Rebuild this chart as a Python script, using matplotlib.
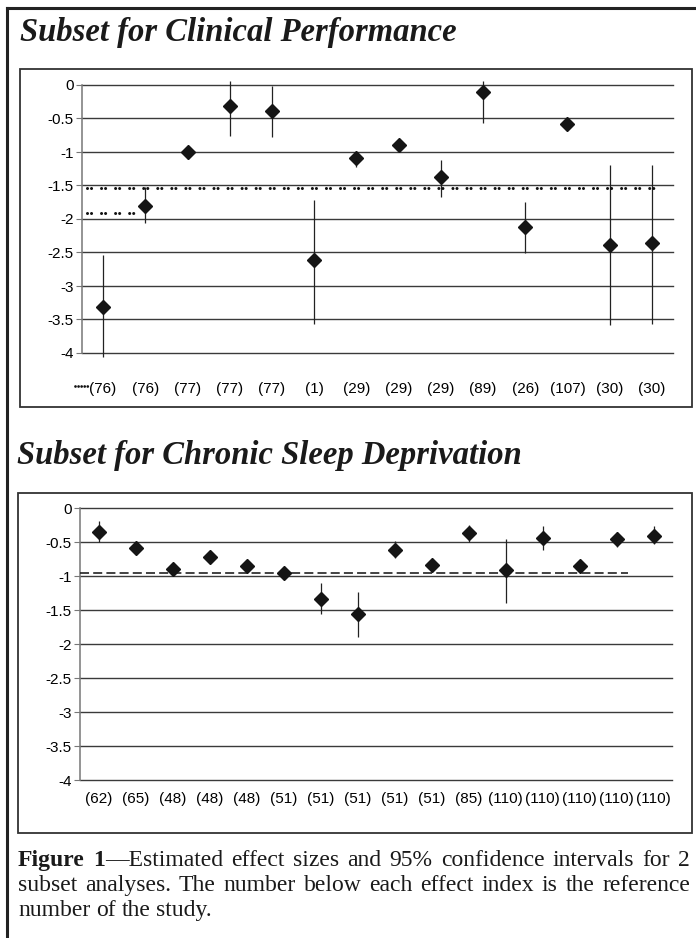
import numpy as np
import matplotlib.pyplot as plt
from matplotlib.lines import Line2D
from matplotlib.patches import Rectangle

plt.rcParams['lines.scale_dashes'] = False
plt.rcParams['axes.unicode_minus'] = False

# Subset for clinical performance (effect size, 95% CI), reference numbers below
clin_refs = ["(76)", "(76)", "(77)", "(77)", "(77)", "(1)", "(29)", "(29)", "(29)",
             "(89)", "(26)", "(107)", "(30)", "(30)"]
clin_effect = [-3.32, -1.81, -1.00, -0.32, -0.39, -2.61, -1.09, -0.90, -1.38,
               -0.10, -2.12, -0.58, -2.39, -2.36]
clin_lo = [-4.06, -2.06, -1.10, -0.76, -0.78, -3.56, -1.22, -0.95, -1.67,
           -0.56, -2.51, -0.60, -3.58, -3.56]
clin_hi = [-2.53, -1.52, -0.91, 0.06, -0.02, -1.71, -1.02, -0.85, -1.12,
           0.06, -1.74, -0.56, -1.19, -1.19]
clin_mean = -1.54
clin_mean_first = -1.915

# Subset for chronic sleep deprivation
sleep_refs = ["(62)", "(65)", "(48)", "(48)", "(48)", "(51)", "(51)", "(51)", "(51)",
              "(51)", "(85)", "(110)", "(110)", "(110)", "(110)", "(110)"]
sleep_effect = [-0.35, -0.59, -0.89, -0.72, -0.86, -0.96, -1.34, -1.56, -0.62,
                -0.84, -0.37, -0.91, -0.44, -0.85, -0.46, -0.41]
sleep_lo = [-0.50, -0.62, -0.93, -0.74, -0.90, -0.98, -1.56, -1.89, -0.74,
            -0.88, -0.50, -1.40, -0.62, -0.87, -0.58, -0.53]
sleep_hi = [-0.19, -0.56, -0.85, -0.70, -0.82, -0.94, -1.11, -1.23, -0.49,
            -0.80, -0.25, -0.45, -0.27, -0.83, -0.35, -0.27]
sleep_mean = -0.96

yticks = np.arange(-4, 0.01, 0.5)

W, H = 696, 938
fig = plt.figure(figsize=(W / 100, H / 100), dpi=100)


def fx(px):
    return px / W


def fy(py):
    return 1 - py / H


def panel(ax, refs, eff, lo, hi, label_pad):
    n = len(refs)
    x = np.arange(n) + 0.5
    ax.set_xlim(0, n)
    ax.set_ylim(-4, 0)
    ax.set_yticks(yticks)
    ax.set_yticklabels([f"{v:g}" if v != 0 else "0" for v in yticks],
                       family="Liberation Sans", size=11)
    ax.grid(axis="y", color="#3a3a3a", lw=1.0)
    for g in ax.get_ygridlines():
        g.set_clip_on(False)
    ax.set_axisbelow(True)
    for s in ["top", "right", "bottom"]:
        ax.spines[s].set_visible(False)
    ax.spines["left"].set_color("#777777")
    ax.spines["left"].set_linewidth(1.1)
    ax.tick_params(axis="y", length=4, color="#777777", pad=2)
    ax.set_xticks(x)
    ax.set_xticklabels(refs, family="Liberation Sans", size=11)
    ax.tick_params(axis="x", length=0, pad=label_pad)
    ax.patch.set_alpha(0)
    ax.vlines(x, lo, hi, color="#222222", lw=0.9, clip_on=False, zorder=3)
    ax.plot(x, eff, "D", ms=7.5, color="#151515", clip_on=False, zorder=4)
    return x


ax1 = fig.add_axes([fx(82), fy(353), fx(673) - fx(82), fy(85) - fy(353)])
panel(ax1, clin_refs, clin_effect, clin_lo, clin_hi, 21)
dots = (0, (0.01, 2.9, 0.01, 7.2))
ax1.plot([0.12, 13.62], [clin_mean, clin_mean], color="#111111", lw=2.2,
         ls=dots, dash_capstyle="round", zorder=3)
ax1.plot([0.12, 1.45], [clin_mean_first, clin_mean_first], color="#111111", lw=2.2,
         ls=dots, dash_capstyle="round", zorder=3)
# legend key in front of the first label
fig.add_artist(Line2D([fx(75), fx(88)], [fy(386), fy(386)], color="#111111", lw=2.0,
                      ls=(0, (0.01, 2.2)), dash_capstyle="round"))

ax2 = fig.add_axes([fx(80), fy(780), fx(672) - fx(80), fy(508) - fy(780)])
panel(ax2, sleep_refs, sleep_effect, sleep_lo, sleep_hi, 9)
ax2.plot([0.0, 14.8], [sleep_mean, sleep_mean], color="#222222", lw=1.2,
         ls=(0, (6.5, 3.0)), zorder=3)

# boxes round each chart
for (l, t, r, b) in [(20, 69, 692, 407), (18, 493, 692, 833)]:
    fig.add_artist(Rectangle((fx(l), fy(b)), fx(r) - fx(l), fy(t) - fy(b),
                             transform=fig.transFigure, fill=False,
                             ec="#333333", lw=1.3))

# page frame
fig.add_artist(Line2D([fx(7), fx(7)], [fy(8), 0], color="#222222", lw=2.2))
fig.add_artist(Line2D([fx(7), 1], [fy(8), fy(8)], color="#222222", lw=2.2))

# section titles
title_kw = dict(family="Liberation Serif", weight="bold", style="italic",
                size=23.5, va="baseline", color="#1a1a1a")
fig.text(fx(20), fy(41), "Subset for Clinical Performance", **title_kw)
fig.text(fx(17), fy(464), "Subset for Chronic Sleep Deprivation", **title_kw)

# caption, justified like the printed page
cap_size = 17
cap_lines = [
    ([[("Figure", "bold")], [("1", "bold"), ("\u2014Estimated", "normal")]]
     + [[(w, "normal")] for w in "effect sizes and 95% confidence intervals for 2".split()], True, 866),
    ([[(w, "normal")] for w in
      "subset analyses. The number below each effect index is the reference".split()], True, 891),
    ([[(w, "normal")] for w in "number of the study.".split()], False, 916),
]
renderer = fig.canvas.get_renderer()


def piece_width(s, wt):
    t = fig.text(0, 0, s, size=cap_size, family="Liberation Serif", weight=wt)
    w = t.get_window_extent(renderer).width
    t.remove()
    return w


space_w = piece_width("a a", "normal") - 2 * piece_width("a", "normal")
x_left, x_right = 18, 690
for words, justify, base in cap_lines:
    widths = [sum(piece_width(s, wt) for s, wt in w) for w in words]
    if justify:
        gap = (x_right - x_left - sum(widths)) / (len(words) - 1)
    else:
        gap = space_w
    xpos = x_left
    for w, ww in zip(words, widths):
        xp = xpos
        for s, wt in w:
            fig.text(fx(xp), fy(base), s, size=cap_size, family="Liberation Serif",
                     weight=wt, va="baseline", color="#1a1a1a")
            xp += piece_width(s, wt)
        xpos += ww + gap

fig.savefig("out.png", dpi=100)
